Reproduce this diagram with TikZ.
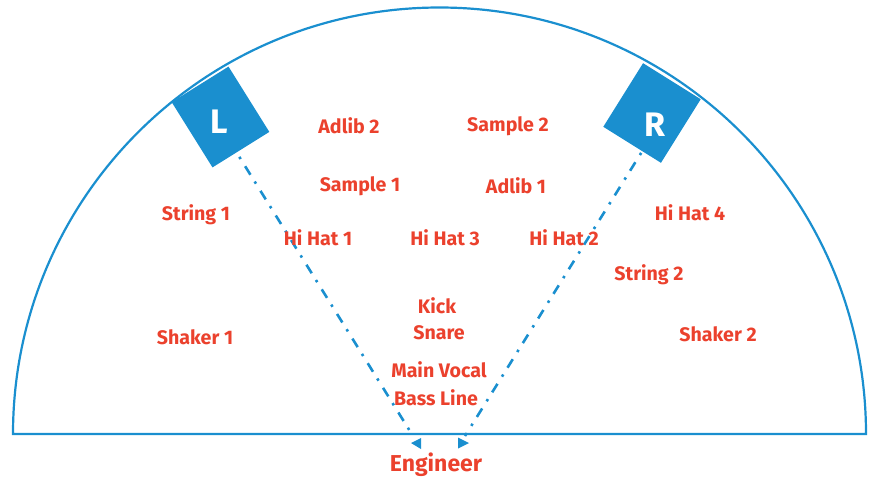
\documentclass[tikz,border=0pt]{standalone}
\usepackage{fontspec}
\setmainfont{Fira Sans}
\usetikzlibrary{calc}
\definecolor{spkblue}{RGB}{26,143,207}
\definecolor{lblred}{RGB}{235,65,45}
\begin{document}
\begin{tikzpicture}[x=1pt,y=-1pt,
  lbl/.style={text=lblred,font=\fontsize{19.6}{22}\selectfont\bfseries,inner sep=0pt},
  biglbl/.style={text=lblred,font=\fontsize{23}{26}\selectfont\bfseries,inner sep=0pt},
  spk/.style={fill=spkblue,inner sep=0pt},
  spkletter/.style={text=white,font=\fontsize{34}{36}\selectfont\bfseries,inner sep=0pt},
  guide/.style={draw=spkblue,line width=2.6pt,dash pattern=on 10pt off 8pt on 2.5pt off 8.5pt},
  tipfill/.style={fill=spkblue}]
\useasboundingbox (0,0) rectangle (872,480);
% stage outline
\draw[spkblue,line width=2.2pt] (13,434) arc[start angle=180,end angle=0,radius=426.5pt] -- cycle;
% end points of guides
\coordinate (eL) at (413,436);
\coordinate (eR) at (465,436);
% speakers (positions)
\path (220.5,117) coordinate (Lc);
\path (652,113) coordinate (Rc);
% guide lines
\draw[guide] ($(Lc)+(-6,0)$) -- (eL);
\draw[guide] ($(Rc)+(14,0)$) -- (eR);
% speaker boxes
\node[spk,minimum width=67pt,minimum height=77pt,rotate=32] (Lspk) at (Lc) {};
\node[spk,minimum width=68pt,minimum height=75pt,rotate=-32] (Rspk) at (Rc) {};
\node[spkletter] (Ltxt) at (219,122) {L};
\node[spkletter] (Rtxt) at (655,125) {R};
% arrow tips
\fill[tipfill] (411,443) -- (421,438) -- (421,449) -- cycle;
\fill[tipfill] (469,443) -- (458,437.5) -- (458,448.5) -- cycle;
% labels
\node[lbl] (adlib2) at (349,126) {Adlib 2};
\node[lbl] (sample2) at (508,126) {Sample 2};
\node[lbl] (sample1) at (360,186) {Sample 1};
\node[lbl] (adlib1) at (516,186) {Adlib 1};
\node[lbl] (string1) at (196,215) {String 1};
\node[lbl] (hihat1) at (318,238) {Hi Hat 1};
\node[lbl] (hihat3) at (445,238) {Hi Hat 3};
\node[lbl] (hihat2) at (564,238) {Hi Hat 2};
\node[lbl] (hihat4) at (690,213) {Hi Hat 4};
\node[lbl] (string2) at (649,275) {String 2};
\node[lbl] (kick) at (437,306) {Kick};
\node[lbl] (snare) at (439,333) {Snare};
\node[lbl] (mainvocal) at (439,370) {Main Vocal};
\node[lbl] (bassline) at (436,398) {Bass Line};
\node[lbl] (shaker1) at (195,337) {Shaker 1};
\node[lbl] (shaker2) at (718,334) {Shaker 2};
\node[biglbl] (engineer) at (436,465) {Engineer};
\end{tikzpicture}
\end{document}
